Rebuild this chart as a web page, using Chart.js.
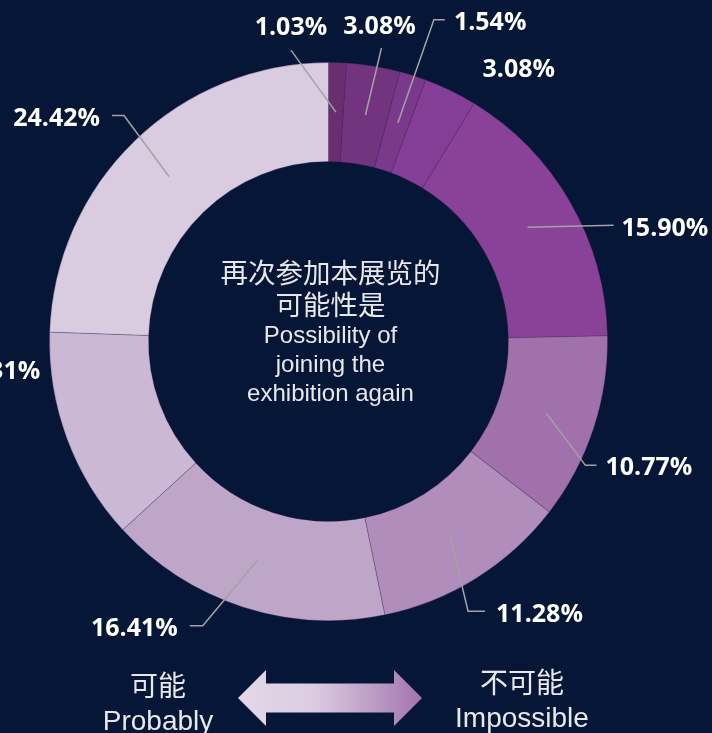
<!DOCTYPE html>
<html>
<head>
<meta charset="utf-8">
<script src="https://cdn.jsdelivr.net/npm/chart.js@4"></script>
<style>
  html, body { margin: 0; padding: 0; background: #061636; }
  #wrap { width: 712px; height: 733px; position: relative; overflow: hidden; }
</style>
</head>
<body>
<div id="wrap"><canvas id="donut" width="712" height="733"></canvas></div>
<script>
// answers from "probably" (light) to "impossible" (dark), drawn clockwise from 12 o'clock
const categories = ['10', '9', '8', '7', '6', '5', '4', '3', '2', '1'];
const shares = [1.03, 3.08, 1.54, 3.08, 15.90, 10.77, 11.28, 16.41, 12.31, 24.42];
const sliceColors = ['#6a2d70', '#72337f', '#7b398b', '#843e95', '#8a4299',
                     '#a071ab', '#b08dba', '#bea6c8', '#cbb8d4', '#d9cbe0'];

const titleZh = ['再次参加本展览的', '可能性是'];
const titleEn = ['Possibility of', 'joining the', 'exhibition again'];

// leader line / label placement, relative to the middle of each ring segment
// e: elbow offset, h: horizontal run, t: text offset, a: text align, line: draw leader
const labelLayout = [
  { line: true,  e: [-45, -62], h: 0,   t: [-45, -84], a: 'center' },
  { line: true,  e: [16, -67],  h: 0,   t: [14, -88],  a: 'center' },
  { line: true,  e: [36, -103], h: 11,  t: [56, -100], a: 'left' },
  { line: false, e: [0, 0],     h: 0,   t: [90, -65],  a: 'center' },
  { line: true,  e: [86, -2],   h: 0,   t: [94, 2],    a: 'left' },
  { line: true,  e: [39, 52],   h: 11,  t: [59, 55],   a: 'left' },
  { line: true,  e: [18, 75],   h: 17,  t: [46, 79],   a: 'left' },
  { line: true,  e: [-55, 66],  h: -13, t: [-80, 69],  a: 'right' },
  { line: false, e: [0, 0],     h: 0,   t: [-73, -49], a: 'right' },
  { line: true,  e: [-45, -61], h: -12, t: [-69, -58], a: 'right' }
];

const sliceLabels = {
  id: 'sliceLabels',
  afterDatasetsDraw(chart) {
    const ctx = chart.ctx;
    const arcs = chart.getDatasetMeta(0).data;
    ctx.save();
    arcs.forEach((arc, i) => {
      const p = arc.getProps(['x', 'y', 'startAngle', 'endAngle', 'innerRadius', 'outerRadius'], true);
      const mid = (p.startAngle + p.endAngle) / 2;
      const r = (p.innerRadius + p.outerRadius) / 2;
      const ax = p.x + Math.cos(mid) * r;
      const ay = p.y + Math.sin(mid) * r;
      const lay = labelLayout[i];
      if (lay.line) {
        ctx.strokeStyle = '#a3a3a3';
        ctx.lineWidth = 1.5;
        ctx.beginPath();
        ctx.moveTo(ax, ay);
        ctx.lineTo(ax + lay.e[0], ay + lay.e[1]);
        if (lay.h) ctx.lineTo(ax + lay.e[0] + lay.h, ay + lay.e[1]);
        ctx.stroke();
      }
      ctx.fillStyle = '#ffffff';
      ctx.font = 'bold 25px "Open Sans", sans-serif';
      ctx.textAlign = lay.a;
      ctx.textBaseline = 'middle';
      ctx.fillText(shares[i].toFixed(2) + '%', ax + lay.t[0], ay + lay.t[1]);
    });
    ctx.restore();
  }
};

const centerText = {
  id: 'centerText',
  afterDraw(chart) {
    const ctx = chart.ctx;
    const arc = chart.getDatasetMeta(0).data[0];
    const cx = arc.x, cy = arc.y;
    ctx.save();
    ctx.fillStyle = '#e8e8ec';
    ctx.textAlign = 'center';
    ctx.textBaseline = 'middle';
    ctx.font = '27.5px "Noto Sans CJK SC", sans-serif';
    ctx.fillText(titleZh[0], cx + 2, cy - 69);
    ctx.fillText(titleZh[1], cx + 2, cy - 37);
    ctx.font = '24px "Liberation Sans", Arial, sans-serif';
    ctx.fillText(titleEn[0], cx + 2, cy - 5);
    ctx.fillText(titleEn[1], cx + 2, cy + 24);
    ctx.fillText(titleEn[2], cx + 2, cy + 53);

    // scale legend under the ring
    const ly = 698;
    ctx.font = '28px "Noto Sans CJK SC", sans-serif';
    ctx.fillText('可能', 158, ly - 13);
    ctx.fillText('不可能', 522, ly - 16);
    ctx.font = '28px "Liberation Sans", Arial, sans-serif';
    ctx.textBaseline = 'alphabetic';
    ctx.fillText('Probably', 158, ly + 32);
    ctx.fillText('Impossible', 522, ly + 29);

    const x0 = 238, x1 = 422, hw = 28, sw = 14.5, head = 28;
    const g = ctx.createLinearGradient(x0, 0, x1, 0);
    g.addColorStop(0, '#e3d7e8');
    g.addColorStop(0.4, '#dccde2');
    g.addColorStop(0.72, '#bd9fc6');
    g.addColorStop(1, '#a274ad');
    ctx.fillStyle = g;
    ctx.beginPath();
    ctx.moveTo(x0, ly);
    ctx.lineTo(x0 + head, ly - hw);
    ctx.lineTo(x0 + head, ly - sw);
    ctx.lineTo(x1 - head, ly - sw);
    ctx.lineTo(x1 - head, ly - hw);
    ctx.lineTo(x1, ly);
    ctx.lineTo(x1 - head, ly + hw);
    ctx.lineTo(x1 - head, ly + sw);
    ctx.lineTo(x0 + head, ly + sw);
    ctx.lineTo(x0 + head, ly + hw);
    ctx.closePath();
    ctx.fill();
    ctx.restore();
  }
};

new Chart(document.getElementById('donut'), {
  type: 'doughnut',
  data: {
    labels: categories,
    datasets: [{
      data: shares,
      backgroundColor: sliceColors,
      borderColor: 'rgba(70, 40, 90, 0.3)',
      borderWidth: 1
    }]
  },
  options: {
    responsive: false,
    animation: false,
    cutout: '64.5%',
    layout: { padding: { left: 49, right: 104, top: 62, bottom: 112 } },
    plugins: {
      legend: { display: false },
      tooltip: { enabled: false }
    }
  },
  plugins: [sliceLabels, centerText]
});
</script>
</body>
</html>
